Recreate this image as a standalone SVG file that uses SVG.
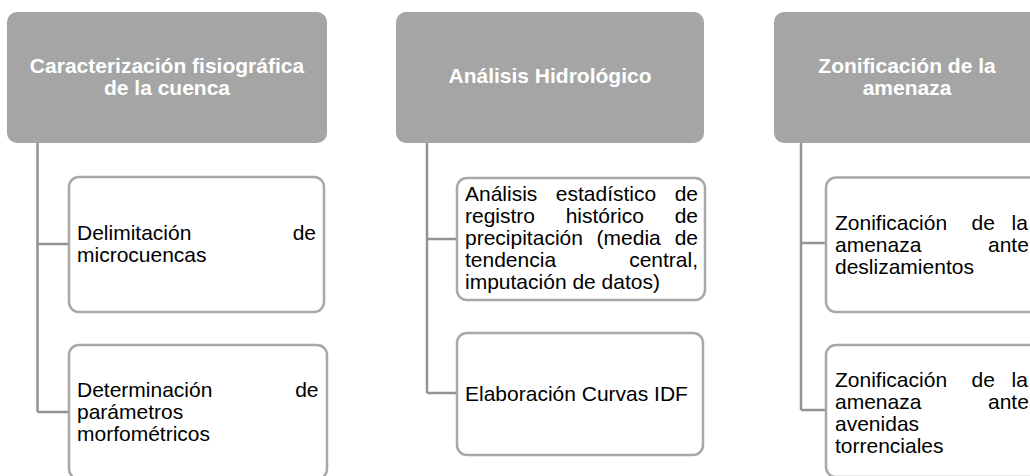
<svg xmlns="http://www.w3.org/2000/svg" width="1030" height="476" viewBox="0 0 1030 476">
<style>
.hdr{fill:#a5a5a5}
.box{fill:#ffffff;stroke:#a8a8a8;stroke-width:2.5}
.ht{font-family:"Liberation Sans",Arial,sans-serif;font-size:21px;font-weight:bold;fill:#ffffff;text-anchor:middle}
.bt{font-family:"Liberation Sans",Arial,sans-serif;font-size:21px;fill:#000000}
.e{text-anchor:end}
.con{fill:none;stroke:#939393;stroke-width:2.5}
</style>
<rect width="1030" height="476" fill="#ffffff"/>
<g id="connectors">
<path class="con" d="M37.5 143 V412 M37.5 244 H69 M37.5 412 H69"/>
<path class="con" d="M427 143 V393 M427 239 H457 M427 393 H457"/>
<path class="con" d="M801 143 V410 M801 243 H826 M801 410 H826"/>
</g>
<g id="h1">
<rect class="hdr" x="7" y="12" width="320" height="131" rx="10"/>
<text class="ht" x="167" y="73">Caracterización fisiográfica</text>
<text class="ht" x="167" y="95">de la cuenca</text>
</g>
<g id="c1a">
<rect class="box" x="69" y="177" width="255" height="135" rx="10"/>
<text class="bt" x="77" y="240">Delimitación</text>
<text class="bt e" x="316" y="240">de</text>
<text class="bt" x="77" y="262">microcuencas</text>
</g>
<g id="c1b">
<rect class="box" x="69" y="345" width="258" height="134" rx="10"/>
<text class="bt" x="77" y="397">Determinación</text>
<text class="bt e" x="318.5" y="397">de</text>
<text class="bt" x="77" y="419">parámetros</text>
<text class="bt" x="77" y="441">morfométricos</text>
</g>
<g id="h2">
<rect class="hdr" x="396" y="12" width="308" height="131" rx="10"/>
<text class="ht" x="550" y="83">Análisis Hidrológico</text>
</g>
<g id="c2a">
<rect class="box" x="457" y="178" width="248" height="122" rx="10"/>
<text class="bt" x="465" y="201">Análisis</text>
<text class="bt" x="555.8" y="201">estadístico</text>
<text class="bt e" x="698" y="201">de</text>
<text class="bt" x="465" y="223">registro</text>
<text class="bt" x="565.7" y="223">histórico</text>
<text class="bt e" x="698" y="223">de</text>
<text class="bt" x="465" y="245">precipitación</text>
<text class="bt" x="596.6" y="245">(media</text>
<text class="bt e" x="698" y="245">de</text>
<text class="bt" x="465" y="267">tendencia</text>
<text class="bt e" x="698" y="267">central,</text>
<text class="bt" x="465" y="289">imputación de datos)</text>
</g>
<g id="c2b">
<rect class="box" x="457" y="333" width="246" height="122" rx="10"/>
<text class="bt" x="465" y="401">Elaboración Curvas IDF</text>
</g>
<g id="h3">
<rect class="hdr" x="774" y="12" width="266" height="131" rx="10"/>
<text class="ht" x="907" y="73">Zonificación de la</text>
<text class="ht" x="907" y="95">amenaza</text>
</g>
<g id="c3a">
<rect class="box" x="826" y="177.5" width="216" height="134.5" rx="10"/>
<text class="bt" x="835" y="230">Zonificación</text>
<text class="bt" x="971.5" y="230">de</text>
<text class="bt" x="1011.5" y="230">la</text>
<text class="bt" x="835" y="252">amenaza</text>
<text class="bt" x="988" y="252">ante</text>
<text class="bt" x="835" y="274">deslizamientos</text>
</g>
<g id="c3b">
<rect class="box" x="826" y="345" width="216" height="132" rx="10"/>
<text class="bt" x="835" y="387">Zonificación</text>
<text class="bt" x="971.5" y="387">de</text>
<text class="bt" x="1011.5" y="387">la</text>
<text class="bt" x="835" y="409">amenaza</text>
<text class="bt" x="988" y="409">ante</text>
<text class="bt" x="835" y="431">avenidas</text>
<text class="bt" x="835" y="453">torrenciales</text>
</g>
</svg>
